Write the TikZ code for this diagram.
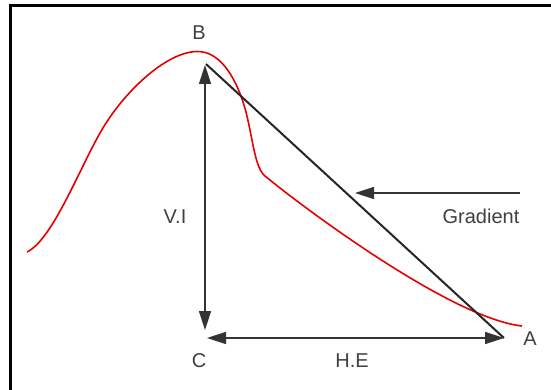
\documentclass[tikz,border=0pt]{standalone}
\usepackage{fontspec}
\setmainfont{Liberation Sans}
\usetikzlibrary{arrows.meta}
\begin{document}
\begin{tikzpicture}[x=1pt,y=-1pt,
  lbl/.style={font=\fontsize{20}{20}\selectfont, text=black!75, inner sep=0pt},
  arr/.style={line width=1.5pt, draw=black!80, -{Triangle[length=19pt,width=12pt]}},
  dblarr/.style={line width=1.5pt, draw=black!80, {Triangle[length=19pt,width=12pt]}-{Triangle[length=19pt,width=12pt]}},
  frame/.style={line width=3pt, draw=black},
  slope/.style={line width=2pt, draw=black!85},
  curve/.style={line width=1.6pt, draw=red!90!black}]
\useasboundingbox (0,0) rectangle (551,390);
\fill[white] (0,0) rectangle (551,390);
\draw[frame] (10.5,390) -- (10.5,6) -- (551,6);
% curve
\draw[curve] (27,252) .. controls (52,240) and (78,172) .. (100,133)
  .. controls (122,94) and (165,52) .. (197,51.5)
  .. controls (222,51) and (238,82) .. (246,112)
  .. controls (253,140) and (255,168) .. (265,176)
  .. controls (300,205) and (450,318) .. (522,326);
\coordinate (Bt) at (206,64);
\coordinate (Ct) at (205,330);
\coordinate (Cl) at (207,338);
\coordinate (At) at (504,338);
\coordinate (Gs) at (520,193);
\coordinate (Ge) at (355,193);
\draw[slope] (Bt) -- (At);
\draw[dblarr] (205,65) -- (Ct);
\draw[dblarr] (Cl) -- (At);
\draw[arr] (Gs) -- (Ge);
\node[lbl] (B) at (199,33) {B};
\node[lbl] (C) at (199,361) {C};
\node[lbl] (A) at (530,339) {A};
\node[lbl] (HE) at (352,361) {H.E};
\node[lbl] (VI) at (175,217) {V.I};
\node[lbl] (G) at (481,216) {Gradient};
\end{tikzpicture}
\end{document}
